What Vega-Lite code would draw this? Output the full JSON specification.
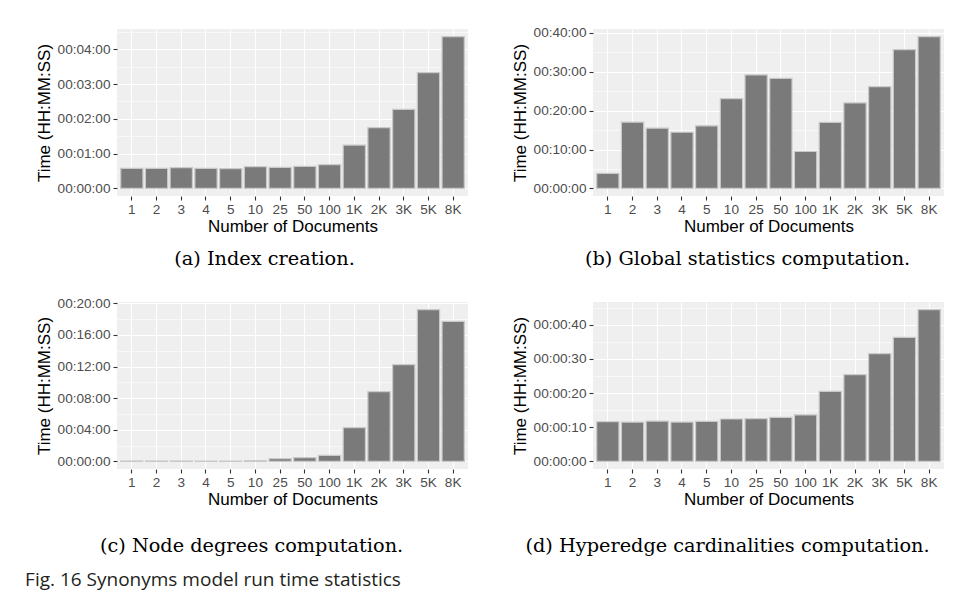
{
  "$schema": "https://vega.github.io/schema/vega-lite/v6.json",
  "background": "white",
  "padding": {"left": 25, "top": 24, "right": 5, "bottom": 3},
  "datasets": {
    "a": [
      {"docs": "1", "t": 34.5}, {"docs": "2", "t": 34.5}, {"docs": "3", "t": 35.7}, {"docs": "4", "t": 34.5},
      {"docs": "5", "t": 34}, {"docs": "10", "t": 37.4}, {"docs": "25", "t": 36.3}, {"docs": "50", "t": 38},
      {"docs": "100", "t": 40.9}, {"docs": "1K", "t": 74.8}, {"docs": "2K", "t": 104.7}, {"docs": "3K", "t": 136.4},
      {"docs": "5K", "t": 199.7}, {"docs": "8K", "t": 261.9}
    ],
    "b": [
      {"docs": "1", "t": 232}, {"docs": "2", "t": 1022}, {"docs": "3", "t": 930}, {"docs": "4", "t": 867},
      {"docs": "5", "t": 966}, {"docs": "10", "t": 1386}, {"docs": "25", "t": 1752}, {"docs": "50", "t": 1698},
      {"docs": "100", "t": 573}, {"docs": "1K", "t": 1020}, {"docs": "2K", "t": 1320}, {"docs": "3K", "t": 1569},
      {"docs": "5K", "t": 2142}, {"docs": "8K", "t": 2343}
    ],
    "c": [
      {"docs": "1", "t": 3}, {"docs": "2", "t": 3}, {"docs": "3", "t": 3}, {"docs": "4", "t": 3},
      {"docs": "5", "t": 3}, {"docs": "10", "t": 5}, {"docs": "25", "t": 20}, {"docs": "50", "t": 28},
      {"docs": "100", "t": 46}, {"docs": "1K", "t": 256}, {"docs": "2K", "t": 529}, {"docs": "3K", "t": 734},
      {"docs": "5K", "t": 1152}, {"docs": "8K", "t": 1063}
    ],
    "d": [
      {"docs": "1", "t": 11.6}, {"docs": "2", "t": 11.5}, {"docs": "3", "t": 11.8}, {"docs": "4", "t": 11.5},
      {"docs": "5", "t": 11.7}, {"docs": "10", "t": 12.4}, {"docs": "25", "t": 12.5}, {"docs": "50", "t": 12.9},
      {"docs": "100", "t": 13.6}, {"docs": "1K", "t": 20.5}, {"docs": "2K", "t": 25.4}, {"docs": "3K", "t": 31.5},
      {"docs": "5K", "t": 36.3}, {"docs": "8K", "t": 44.4}
    ]
  },
  "title": {
    "text": "Fig. 16  Synonyms model run time statistics",
    "orient": "bottom",
    "anchor": "start",
    "frame": "bounds",
    "font": "Open Sans",
    "fontSize": 19,
    "fontWeight": "normal",
    "color": "#231f20",
    "offset": 15,
    "dx": -10
  },
  "columns": 2,
  "bounds": "flush",
  "spacing": {"row": 106, "column": 125},
  "concat": [
    {
      "width": 351, "height": 167,
      "data": {"name": "a"},
      "title": {"text": "(a) Index creation.", "orient": "bottom", "frame": "bounds", "anchor": "middle", "font": "DejaVu Serif", "fontSize": 19.3, "fontWeight": "normal", "color": "#000", "offset": 15, "dx": 13},
      "mark": {"type": "bar", "fill": "#7a7a7a", "stroke": "#c9c9c9", "strokeWidth": 1.2},
      "encoding": {
        "x": {"field": "docs", "type": "ordinal", "sort": null, "scale": {"paddingInner": 0.1, "paddingOuter": 0.15}, "axis": {"title": "Number of Documents", "labelAngle": 0}},
        "y": {"field": "t", "type": "quantitative", "scale": {"domain": [-13.1, 275], "nice": false, "zero": false},
          "axis": {"title": "Time (HH:MM:SS)", "values": [0, 30, 60, 90, 120, 150, 180, 210, 240, 270],
            "labelExpr": "datum.value % 60 == 0 ? utcFormat(datum.value * 1000, '%H:%M:%S') : ''",
            "gridWidth": {"condition": {"test": "datum.value % 60 != 0", "value": 0.55}, "value": 1.1},
            "tickOpacity": {"condition": {"test": "datum.value % 60 != 0", "value": 0}, "value": 1}}},
        "y2": {"datum": 0}
      }
    },
    {
      "width": 351, "height": 167,
      "data": {"name": "b"},
      "title": {"text": "(b) Global statistics computation.", "orient": "bottom", "frame": "bounds", "anchor": "middle", "font": "DejaVu Serif", "fontSize": 19.3, "fontWeight": "normal", "color": "#000", "offset": 15, "dx": 20},
      "mark": {"type": "bar", "fill": "#7a7a7a", "stroke": "#c9c9c9", "strokeWidth": 1.2},
      "encoding": {
        "x": {"field": "docs", "type": "ordinal", "sort": null, "scale": {"paddingInner": 0.1, "paddingOuter": 0.15}, "axis": {"title": "Number of Documents", "labelAngle": 0}},
        "y": {"field": "t", "type": "quantitative", "scale": {"domain": [-117, 2460], "nice": false, "zero": false},
          "axis": {"title": "Time (HH:MM:SS)", "values": [0, 300, 600, 900, 1200, 1500, 1800, 2100, 2400],
            "labelExpr": "datum.value % 600 == 0 ? utcFormat(datum.value * 1000, '%H:%M:%S') : ''",
            "gridWidth": {"condition": {"test": "datum.value % 600 != 0", "value": 0.55}, "value": 1.1},
            "tickOpacity": {"condition": {"test": "datum.value % 600 != 0", "value": 0}, "value": 1}}},
        "y2": {"datum": 0}
      }
    },
    {
      "width": 351, "height": 167,
      "data": {"name": "c"},
      "title": {"text": "(c) Node degrees computation.", "orient": "bottom", "frame": "bounds", "anchor": "middle", "font": "DejaVu Serif", "fontSize": 19.3, "fontWeight": "normal", "color": "#000", "offset": 29, "dx": 0},
      "mark": {"type": "bar", "fill": "#7a7a7a", "stroke": "#c9c9c9", "strokeWidth": 1.2},
      "encoding": {
        "x": {"field": "docs", "type": "ordinal", "sort": null, "scale": {"paddingInner": 0.1, "paddingOuter": 0.15}, "axis": {"title": "Number of Documents", "labelAngle": 0}},
        "y": {"field": "t", "type": "quantitative", "scale": {"domain": [-57.6, 1209.6], "nice": false, "zero": false},
          "axis": {"title": "Time (HH:MM:SS)", "values": [0, 120, 240, 360, 480, 600, 720, 840, 960, 1080, 1200],
            "labelExpr": "datum.value % 240 == 0 ? utcFormat(datum.value * 1000, '%H:%M:%S') : ''",
            "gridWidth": {"condition": {"test": "datum.value % 240 != 0", "value": 0.55}, "value": 1.1},
            "tickOpacity": {"condition": {"test": "datum.value % 240 != 0", "value": 0}, "value": 1}}},
        "y2": {"datum": 0}
      }
    },
    {
      "width": 351, "height": 167,
      "data": {"name": "d"},
      "title": {"text": "(d) Hyperedge cardinalities computation.", "orient": "bottom", "frame": "bounds", "anchor": "middle", "font": "DejaVu Serif", "fontSize": 19.3, "fontWeight": "normal", "color": "#000", "offset": 29, "dx": 0},
      "mark": {"type": "bar", "fill": "#7a7a7a", "stroke": "#c9c9c9", "strokeWidth": 1.2},
      "encoding": {
        "x": {"field": "docs", "type": "ordinal", "sort": null, "scale": {"paddingInner": 0.1, "paddingOuter": 0.15}, "axis": {"title": "Number of Documents", "labelAngle": 0}},
        "y": {"field": "t", "type": "quantitative", "scale": {"domain": [-2.22, 46.62], "nice": false, "zero": false},
          "axis": {"title": "Time (HH:MM:SS)", "values": [0, 5, 10, 15, 20, 25, 30, 35, 40, 45],
            "labelExpr": "datum.value % 10 == 0 ? utcFormat(datum.value * 1000, '%H:%M:%S') : ''",
            "gridWidth": {"condition": {"test": "datum.value % 10 != 0", "value": 0.55}, "value": 1.1},
            "tickOpacity": {"condition": {"test": "datum.value % 10 != 0", "value": 0}, "value": 1}}},
        "y2": {"datum": 0}
      }
    }
  ],
  "config": {
    "view": {"fill": "#efefef", "stroke": null},
    "font": "Liberation Sans",
    "axis": {
      "domain": false,
      "grid": true,
      "gridColor": "#ffffff",
      "gridWidth": 1.1,
      "labelFont": "Liberation Sans",
      "labelFontSize": 13.6,
      "labelColor": "#4d4d4d",
      "labelOverlap": false,
      "labelFlush": false,
      "titleFont": "Liberation Sans",
      "titleFontSize": 17,
      "titleFontWeight": "normal",
      "titleColor": "#000000",
      "tickColor": "#333333",
      "tickSize": 4,
      "tickWidth": 1.1
    },
    "axisX": {"labelPadding": 2, "titlePadding": 3},
    "axisY": {"labelPadding": 3, "titlePadding": 4}
  }
}
